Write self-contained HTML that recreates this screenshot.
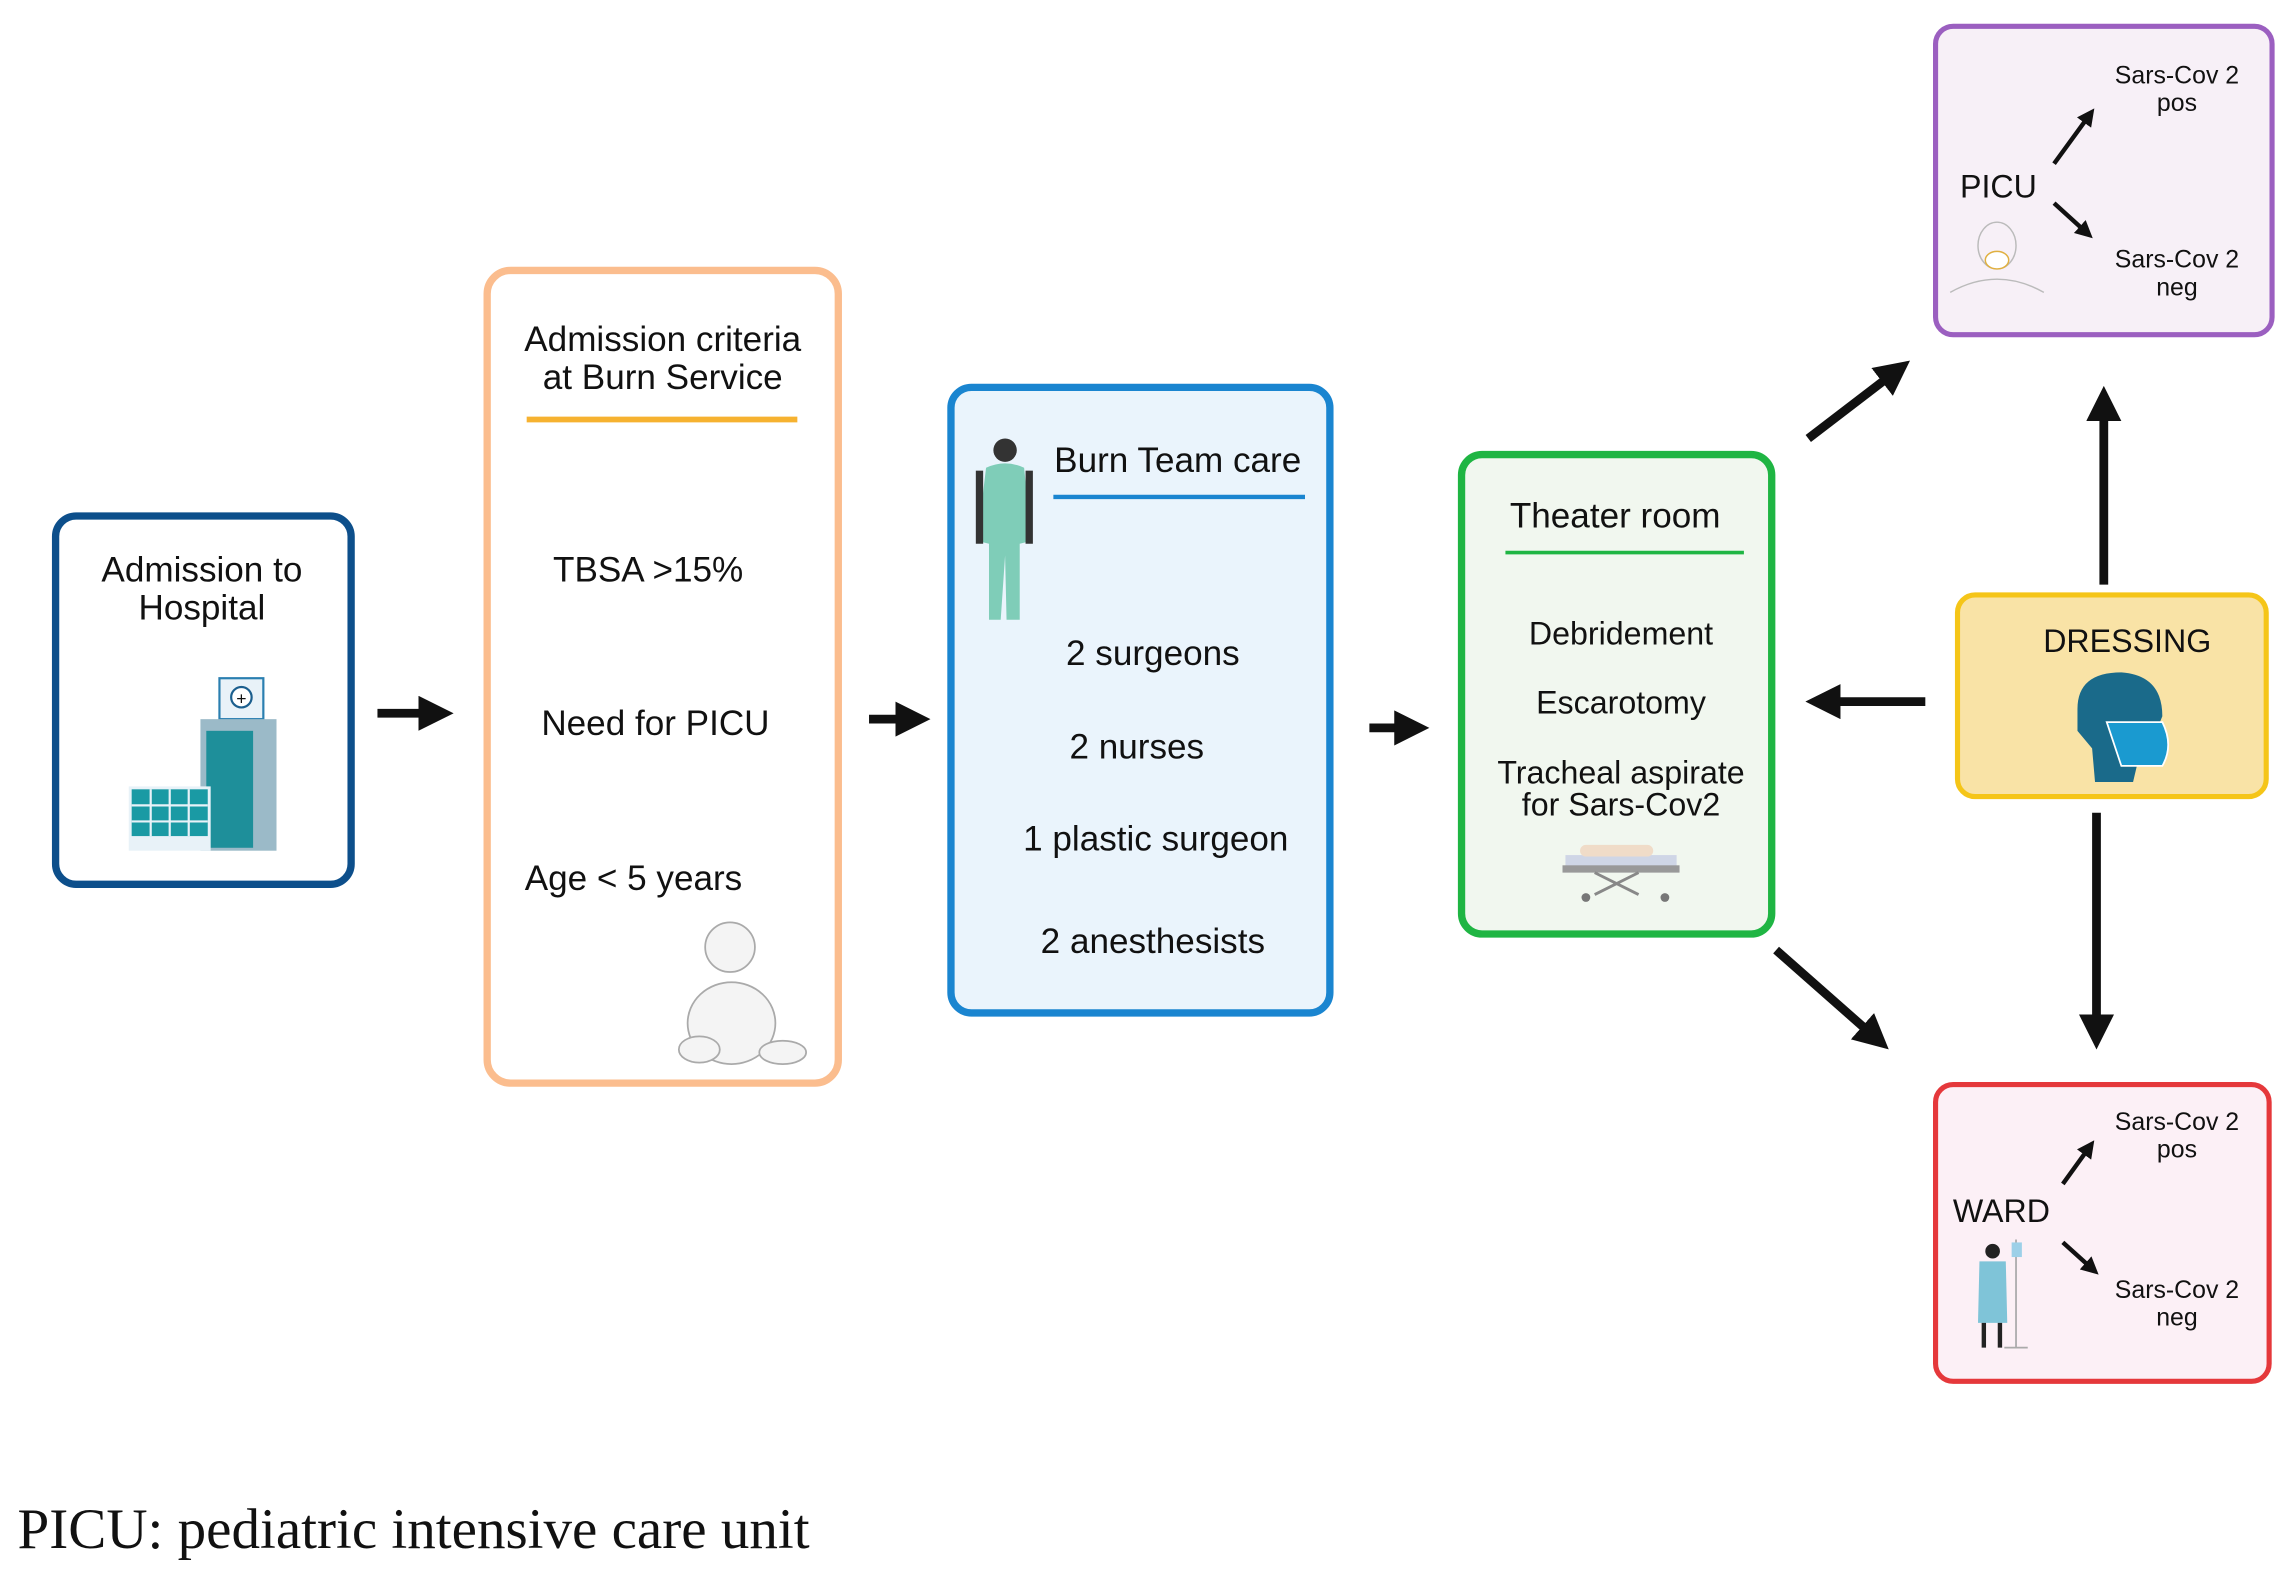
<!DOCTYPE html>
<html><head><meta charset="utf-8"><style>
html,body{margin:0;padding:0;background:#fff;}
svg{display:block;}
text{font-family:"Liberation Sans","DejaVu Sans",sans-serif;fill:#111;}
</style></head><body>
<svg width="2294" height="1583" viewBox="0 0 1568 1083" preserveAspectRatio="none" xmlns="http://www.w3.org/2000/svg">
<defs>
<marker id="ah" markerWidth="4" markerHeight="4" refX="2" refY="2" orient="auto" markerUnits="strokeWidth"><path d="M0,0 L4,2 L0,4 Z" fill="#111"/></marker>
<marker id="as" markerWidth="4" markerHeight="4" refX="2" refY="2" orient="auto" markerUnits="strokeWidth"><path d="M0,0 L4,2 L0,4 Z" fill="#111"/></marker>
</defs>
<rect x="0" y="0" width="1568" height="1083" fill="#fff"/>

<rect x="38" y="353" width="202" height="252" rx="14" fill="#fff" stroke="#0d4f8b" stroke-width="5"/>
<text x="138" y="398" font-size="24" text-anchor="middle">Admission to</text>
<text x="138" y="424" font-size="24" text-anchor="middle">Hospital</text>
<g>
<rect x="150" y="464" width="30" height="28" fill="#e8f2f8" stroke="#2a7fb0" stroke-width="1.5"/>
<circle cx="165" cy="477" r="7" fill="#fff" stroke="#1b5f8e" stroke-width="1.5"/>
<text x="165" y="482" font-size="12" text-anchor="middle" fill="#1b5f8e">+</text>
<rect x="137" y="492" width="52" height="90" fill="#9bbac8"/>
<rect x="141" y="500" width="32" height="80" fill="#1e8f9a"/>
<rect x="88" y="538" width="56" height="44" fill="#e8f2f8"/>
<rect x="90" y="540" width="52" height="32" fill="#1a9aa4"/>
<path d="M90 551H142M90 562H142M103 540V572M116 540V572M129 540V572" stroke="#e8f2f8" stroke-width="1.5"/>
</g>

<rect x="333" y="185" width="240" height="556" rx="16" fill="#fff" stroke="#fbbd8e" stroke-width="5"/>
<text x="453" y="240" font-size="24" text-anchor="middle">Admission criteria</text>
<text x="453" y="266" font-size="24" text-anchor="middle">at Burn Service</text>
<line x1="360" y1="287" x2="545" y2="287" stroke="#f6b230" stroke-width="4"/>
<text x="443" y="398" font-size="24" text-anchor="middle">TBSA &gt;15%</text>
<text x="448" y="503" font-size="24" text-anchor="middle">Need for PICU</text>
<text x="433" y="609" font-size="24" text-anchor="middle">Age &lt; 5 years</text>
<g fill="#f4f4f4" stroke="#aaa" stroke-width="1.2">
<ellipse cx="500" cy="700" rx="30" ry="28"/>
<circle cx="499" cy="648" r="17"/>
<ellipse cx="478" cy="718" rx="14" ry="9"/>
<ellipse cx="535" cy="720" rx="16" ry="8"/>
</g>

<rect x="650" y="265" width="259" height="428" rx="14" fill="#eaf4fc" stroke="#1a85d0" stroke-width="5"/>
<text x="805" y="323" font-size="24" text-anchor="middle">Burn Team care</text>
<line x1="720" y1="340" x2="892" y2="340" stroke="#1a85d0" stroke-width="3"/>
<g>
<circle cx="687" cy="308" r="8" fill="#333"/>
<path d="M674 320 Q687 314 700 320 L705 370 L697 372 L697 424 L688 424 L687 380 L684 424 L676 424 L676 372 L668 370 Z" fill="#7fcdb8"/>
<rect x="667" y="322" width="5" height="50" fill="#333"/>
<rect x="701" y="322" width="5" height="50" fill="#333"/>
</g>
<text x="788" y="455" font-size="24" text-anchor="middle">2 surgeons</text>
<text x="777" y="519" font-size="24" text-anchor="middle">2 nurses</text>
<text x="790" y="582" font-size="24" text-anchor="middle">1 plastic surgeon</text>
<text x="788" y="652" font-size="24" text-anchor="middle">2 anesthesists</text>

<rect x="999" y="311" width="212" height="328" rx="14" fill="#f1f7ef" stroke="#1fb543" stroke-width="5"/>
<text x="1104" y="361" font-size="24" text-anchor="middle">Theater room</text>
<line x1="1029" y1="378" x2="1192" y2="378" stroke="#1fb543" stroke-width="2.5"/>
<text x="1108" y="441" font-size="22" text-anchor="middle">Debridement</text>
<text x="1108" y="488" font-size="22" text-anchor="middle">Escarotomy</text>
<text x="1108" y="536" font-size="22" text-anchor="middle">Tracheal aspirate</text>
<text x="1108" y="558" font-size="22" text-anchor="middle">for Sars-Cov2</text>
<g>
<rect x="1070" y="585" width="76" height="8" fill="#cfd6e6"/>
<rect x="1080" y="578" width="50" height="8" rx="4" fill="#f0dcc8"/>
<rect x="1068" y="592" width="80" height="5" fill="#999"/>
<path d="M1090 597 L1120 612 M1120 597 L1090 612" stroke="#888" stroke-width="2"/>
<circle cx="1084" cy="614" r="3" fill="#777"/><circle cx="1138" cy="614" r="3" fill="#777"/>
</g>

<rect x="1323" y="18" width="230" height="211" rx="12" fill="#f7f0f7" stroke="#9b5fc0" stroke-width="3.5"/>
<text x="1366" y="135" font-size="22" text-anchor="middle">PICU</text>
<text x="1488" y="57" font-size="17" text-anchor="middle">Sars-Cov 2</text>
<text x="1488" y="76" font-size="17" text-anchor="middle">pos</text>
<text x="1488" y="183" font-size="17" text-anchor="middle">Sars-Cov 2</text>
<text x="1488" y="202" font-size="17" text-anchor="middle">neg</text>
<line x1="1404" y1="112" x2="1428" y2="79" stroke="#111" stroke-width="3" marker-end="url(#as)"/>
<line x1="1404" y1="139" x2="1426" y2="159" stroke="#111" stroke-width="3" marker-end="url(#as)"/>
<g fill="none" stroke="#bbb" stroke-width="1">
<ellipse cx="1365" cy="168" rx="13" ry="16"/>
<path d="M1333 200 Q1365 182 1397 200"/>
</g>
<ellipse cx="1365" cy="178" rx="8" ry="6" fill="#fff" stroke="#e0b040"/>

<rect x="1338" y="407" width="211" height="138" rx="12" fill="#f9e3a6" stroke="#f5c518" stroke-width="3.5"/>
<text x="1454" y="446" font-size="22" text-anchor="middle">DRESSING</text>
<g>
<path d="M1420 485 Q1420 460 1450 460 Q1478 462 1478 490 L1472 505 L1462 518 L1458 535 L1432 535 L1430 512 L1420 500 Z" fill="#1a6a8a"/>
<path d="M1440 494 L1478 494 Q1486 510 1478 524 L1450 524 Z" fill="#1a9ad0" stroke="#fff" stroke-width="1.2"/>
</g>

<rect x="1323" y="742" width="228" height="203" rx="12" fill="#fcf0f6" stroke="#e5383b" stroke-width="3.5"/>
<text x="1368" y="836" font-size="22" text-anchor="middle">WARD</text>
<text x="1488" y="773" font-size="17" text-anchor="middle">Sars-Cov 2</text>
<text x="1488" y="792" font-size="17" text-anchor="middle">pos</text>
<text x="1488" y="888" font-size="17" text-anchor="middle">Sars-Cov 2</text>
<text x="1488" y="907" font-size="17" text-anchor="middle">neg</text>
<line x1="1410" y1="810" x2="1428" y2="785" stroke="#111" stroke-width="3" marker-end="url(#as)"/>
<line x1="1410" y1="850" x2="1430" y2="868" stroke="#111" stroke-width="3" marker-end="url(#as)"/>
<g>
<circle cx="1362" cy="856" r="5" fill="#222"/>
<path d="M1353 863 L1371 863 L1372 905 L1352 905 Z" fill="#7fc4d8"/>
<path d="M1356 905V922M1367 905V922" stroke="#222" stroke-width="3"/>
<path d="M1378 848V922M1370 922H1386" stroke="#aaa" stroke-width="1.2"/>
<rect x="1375" y="850" width="7" height="10" fill="#9dd0e8"/>
</g>

<g stroke="#111" stroke-width="6" fill="none">
<line x1="258" y1="488" x2="298" y2="488" marker-end="url(#ah)"/>
<line x1="594" y1="492" x2="624" y2="492" marker-end="url(#ah)"/>
<line x1="936" y1="498" x2="965" y2="498" marker-end="url(#ah)"/>
<line x1="1236" y1="300" x2="1296" y2="254" marker-end="url(#ah)"/>
<line x1="1214" y1="650" x2="1282" y2="710" marker-end="url(#ah)"/>
<line x1="1316" y1="480" x2="1246" y2="480" marker-end="url(#ah)"/>
<line x1="1438" y1="400" x2="1438" y2="276" marker-end="url(#ah)"/>
<line x1="1433" y1="556" x2="1433" y2="706" marker-end="url(#ah)"/>
</g>

<text x="12" y="1059" font-size="39" style="font-family:'Liberation Serif',serif">PICU: pediatric intensive care unit</text>
</svg>
</body></html>
